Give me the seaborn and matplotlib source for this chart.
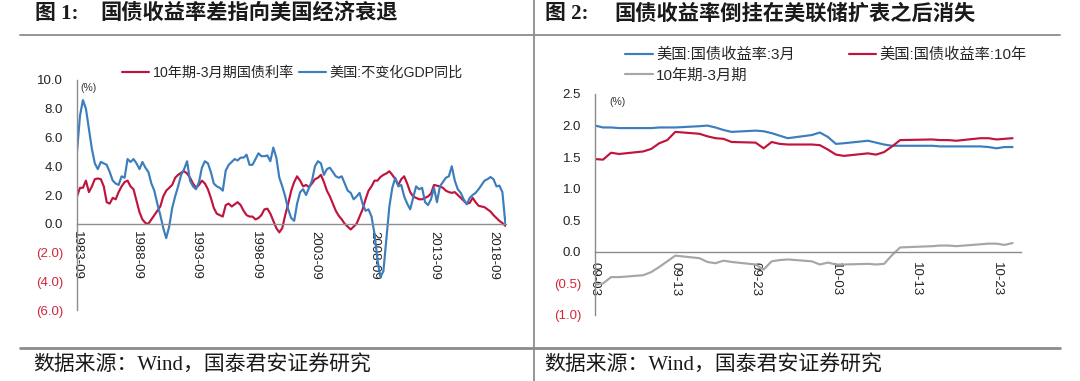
import numpy as np
import pandas as pd
import matplotlib.pyplot as plt
import matplotlib.dates as mdates
import matplotlib.ticker as mticker
from matplotlib.lines import Line2D
import seaborn as sns

# ---------------- chart 1: quarterly, from 1983-09 ----------------
spread_q = [
    1.9, 2.5, 2.5, 3.0, 2.2, 2.6, 3.1, 3.15, 3.1, 2.6,
    1.5, 1.4, 1.8, 1.7, 2.2, 2.6, 2.9, 3.0, 2.6, 2.4,
    1.6, 0.8, 0.3, 0.05, 0.0, 0.3, 0.6, 0.9, 1.2, 1.9,
    2.3, 2.5, 2.7, 3.2, 3.4, 3.55, 3.65, 3.5, 3.2, 2.8,
    2.5, 2.7, 3.0, 2.8, 2.4, 1.8, 1.1, 0.7, 0.6, 0.5,
    1.3, 1.4, 1.2, 1.35, 1.5, 1.3, 0.9, 0.6, 0.5, 0.5,
    0.3, 0.4, 0.6, 1.0, 1.05, 0.7, 0.2, -0.3, -0.6, -0.3,
    0.6, 1.4, 2.3, 2.9, 3.3, 3.0, 2.6, 2.7, 2.55, 2.8,
    3.1, 3.2, 3.4, 2.9, 2.3, 1.9, 1.4, 0.9, 0.55, 0.3,
    0.0, -0.2, -0.4, -0.2, 0.0, 0.5, 1.0, 1.7, 2.3, 2.6,
    3.0, 3.0, 3.25, 3.4, 3.5, 3.65, 3.4, 3.1, 2.7, 3.1,
    3.3, 2.8, 2.2, 1.9, 1.8, 1.7, 1.7, 1.8, 1.9, 2.1,
    2.7, 2.65, 2.6, 2.5, 2.3, 2.2, 2.15, 2.2, 2.0, 1.8,
    1.6, 1.4, 1.45, 1.8, 1.5, 1.25, 1.2, 1.15, 1.0, 0.85,
    0.6, 0.4, 0.2, 0.05, -0.15,
]
gdp_q = [
    5.0, 7.5, 8.6, 8.0, 6.6, 5.2, 4.2, 3.8, 4.3, 4.2,
    4.1, 3.6, 3.0, 2.8, 2.7, 3.3, 3.2, 4.5, 4.3, 4.5,
    4.2, 3.8, 4.3, 3.9, 3.6, 2.8, 2.3, 1.4, 0.6, -0.3,
    -1.0, -0.2, 1.1, 1.9, 2.6, 3.4, 3.8, 4.35, 3.0, 2.6,
    2.4, 2.9, 3.9, 4.35, 4.2, 3.6, 2.8, 2.6, 2.5, 2.3,
    3.7, 4.1, 4.3, 4.5, 4.4, 4.6, 4.6, 4.8, 4.1, 4.1,
    4.5, 4.9, 4.7, 4.7, 4.75, 4.35, 5.3, 4.6, 3.2, 2.6,
    1.9, 1.0, 0.4, 0.2, 1.4, 2.2, 2.4, 2.0, 2.5, 3.0,
    4.0, 4.35, 4.2, 3.4, 3.8, 3.9, 3.6, 3.3, 3.2, 3.3,
    2.8, 2.3, 2.15, 1.7, 1.9, 2.15, 1.4, 0.9, 1.0, 0.5,
    -0.7, -2.5, -3.7, -3.3, -1.0, 1.2, 2.5, 3.2, 2.6, 2.7,
    1.9, 1.4, 1.0, 1.8, 2.6, 2.4, 2.5, 1.5, 1.3, 1.7,
    2.5, 1.5, 2.6, 2.9, 3.2, 3.3, 4.0, 3.0, 2.4, 2.15,
    1.7, 1.35, 1.8, 2.0, 2.15, 2.4, 2.7, 3.0, 3.1, 3.25,
    3.1, 2.6, 2.65, 2.2, 0.0,
]
q_dates = pd.date_range("1983-09-01", periods=len(gdp_q), freq="3MS")
ticks1 = pd.date_range("1983-09-01", "2018-09-01", freq="60MS")
yticks1 = [-6, -4, -2, 0, 2, 4, 6, 8, 10]

# ---------------- chart 2: daily, 2019-09 to 2019-10 ----------------
days = [
    "2019-09-03", "2019-09-04", "2019-09-05", "2019-09-06", "2019-09-09",
    "2019-09-10", "2019-09-11", "2019-09-12", "2019-09-13", "2019-09-16",
    "2019-09-17", "2019-09-18", "2019-09-19", "2019-09-20", "2019-09-23",
    "2019-09-24", "2019-09-25", "2019-09-26", "2019-09-27", "2019-09-30",
    "2019-10-01", "2019-10-02", "2019-10-03", "2019-10-04", "2019-10-07",
    "2019-10-08", "2019-10-09", "2019-10-10", "2019-10-11", "2019-10-15",
    "2019-10-16", "2019-10-17", "2019-10-18", "2019-10-21", "2019-10-22",
    "2019-10-23", "2019-10-24", "2019-10-25",
]
y3m = [
    2.00, 1.97, 1.97, 1.96, 1.96, 1.96, 1.97, 1.97, 1.97, 1.99,
    2.00, 1.97, 1.93, 1.90, 1.92, 1.91, 1.88, 1.84, 1.80, 1.85,
    1.89, 1.82, 1.71, 1.72, 1.76, 1.73, 1.70, 1.68, 1.68, 1.68,
    1.67, 1.67, 1.67, 1.67, 1.66, 1.64, 1.66, 1.66,
]
y10 = [
    1.47, 1.46, 1.57, 1.55, 1.59, 1.63, 1.72, 1.77, 1.90, 1.87,
    1.83, 1.80, 1.79, 1.74, 1.73, 1.64, 1.74, 1.71, 1.70, 1.70,
    1.69, 1.62, 1.54, 1.52, 1.56, 1.54, 1.58, 1.67, 1.77, 1.78,
    1.77, 1.77, 1.76, 1.80, 1.80, 1.78, 1.79, 1.80,
]
spread_d = [
    -0.52, -0.50, -0.40, -0.40, -0.37, -0.32, -0.24, -0.15, -0.06, -0.10,
    -0.16, -0.18, -0.14, -0.16, -0.20, -0.28, -0.15, -0.13, -0.12, -0.15,
    -0.20, -0.17, -0.20, -0.20, -0.19, -0.20, -0.19, -0.05, 0.07, 0.09,
    0.10, 0.10, 0.09, 0.12, 0.13, 0.13, 0.11, 0.14,
]
d_dates = pd.to_datetime(days)
ticks2 = pd.date_range("2019-09-03", "2019-10-23", freq="10D")
yticks2 = [-1.0, -0.5, 0.0, 0.5, 1.0, 1.5, 2.0, 2.5]

RED = "#C0143C"
BLUE = "#3B7DBD"
GRAY = "#A6A6A6"
NEG = "#D0283C"
RULE = "#8C8C8C"

sns.set_theme(style="white")
plt.rcParams["font.family"] = ["Liberation Sans", "Noto Sans CJK SC", "DejaVu Sans"]
plt.rcParams["axes.unicode_minus"] = False


def neg_fmt(v, pos):
    return f"({abs(v):.1f})" if v < 0 else f"{v:.1f}"


def style_axis(ax, yticks, xpad):
    ax.set_xlabel("")
    ax.set_ylabel("")
    for s in ["top", "right"]:
        ax.spines[s].set_visible(False)
    ax.spines["bottom"].set_position(("data", 0))
    for s in ["left", "bottom"]:
        ax.spines[s].set_color(RULE)
        ax.spines[s].set_linewidth(1.0)
    ax.set_yticks(yticks)
    ax.yaxis.set_major_formatter(mticker.FuncFormatter(neg_fmt))
    ax.tick_params(axis="y", direction="in", length=3, width=1, color=RULE,
                   pad=10, labelsize=9.5, labelcolor="#222222")
    ax.tick_params(axis="x", direction="in", length=4, width=1, color=RULE,
                   pad=xpad, labelsize=9.5, labelcolor="#222222", rotation=270)
    ax.grid(False)
    ax.set_facecolor("none")
    for lab, v in zip(ax.get_yticklabels(), yticks):
        if v < 0:
            lab.set_color(NEG)


fig = plt.figure(figsize=(10.8, 3.81), dpi=100)

# ---- left panel
ax1 = fig.add_axes([77 / 1080, 1 - 310 / 381, 429 / 1080, 230 / 381])
sns.lineplot(x=q_dates, y=spread_q, ax=ax1, color=RED, linewidth=1.55,
             label="10年期-3月期国债利率")
sns.lineplot(x=q_dates, y=gdp_q, ax=ax1, color=BLUE, linewidth=1.55,
             label="美国:不变化GDP同比")
ax1.set_xlim(pd.Timestamp("1983-09-01"), pd.Timestamp("2019-09-20"))
ax1.set_ylim(-6, 10)
ax1.set_xticks(ticks1)
ax1.xaxis.set_major_formatter(mdates.DateFormatter("%Y-%m"))
style_axis(ax1, yticks1, 5)
ax1.legend(loc="center left", bbox_to_anchor=(122 / 1080, 1 - 73 / 381),
           bbox_transform=fig.transFigure, ncol=2, frameon=False,
           fontsize=10.2, handlelength=1.9, handletextpad=0.25,
           columnspacing=0.4, borderpad=0, borderaxespad=0)
fig.text(80 / 1080, 1 - 88 / 381, "(%)", fontsize=7.5, color="#333333", va="center")

# ---- right panel
ax2 = fig.add_axes([595 / 1080, 1 - 315 / 381, 425.6 / 1080, 221 / 381])
sns.lineplot(x=d_dates, y=y3m, ax=ax2, color=BLUE, linewidth=1.55,
             label="美国:国债收益率:3月")
sns.lineplot(x=d_dates, y=spread_d, ax=ax2, color=GRAY, linewidth=1.55,
             label="10年期-3月期")
sns.lineplot(x=d_dates, y=y10, ax=ax2, color=RED, linewidth=1.55,
             label="美国:国债收益率:10年")
ax2.set_xlim(pd.Timestamp("2019-09-03"), pd.Timestamp("2019-10-26"))
ax2.set_ylim(-1.0, 2.5)
ax2.set_xticks(ticks2)
ax2.xaxis.set_major_formatter(mdates.DateFormatter("%m-%d"))
style_axis(ax2, yticks2, 7)
ax2.legend(loc="upper left", bbox_to_anchor=(625 / 1080, 1 - 48 / 381),
           bbox_transform=fig.transFigure, ncol=2, frameon=False,
           fontsize=11, handlelength=1.8, handletextpad=0.25,
           columnspacing=3.5, labelspacing=0.4, borderpad=0, borderaxespad=0)
fig.text(609 / 1080, 1 - 102 / 381, "(%)", fontsize=7.5, color="#333333", va="center")

# ---- titles, rules and source notes
title_fam = ["Liberation Serif", "Noto Sans CJK SC"]
fig.text(35 / 1080, 1 - 14 / 381, "图 1:", fontsize=15, weight="bold",
         family=title_fam, va="center", color="#1a1a1a")
fig.text(100 / 1080, 1 - 14 / 381, "国债收益率差指向美国经济衰退", fontsize=15.3,
         weight="bold", family=title_fam, va="center", color="#1a1a1a")
fig.text(545 / 1080, 1 - 14 / 381, "图 2:", fontsize=15, weight="bold",
         family=title_fam, va="center", color="#1a1a1a")
fig.text(614 / 1080, 1 - 14 / 381, "国债收益率倒挂在美联储扩表之后消失", fontsize=15.3,
         weight="bold", family=title_fam, va="center", color="#1a1a1a")

fig.add_artist(Line2D([20 / 1080, 1060 / 1080], [1 - 34.5 / 381] * 2,
                      transform=fig.transFigure, color=RULE, lw=1.3))
fig.add_artist(Line2D([20 / 1080, 1060 / 1080], [1 - 347.5 / 381] * 2,
                      transform=fig.transFigure, color=RULE, lw=2.0))
fig.add_artist(Line2D([534 / 1080] * 2, [0, 1],
                      transform=fig.transFigure, color=RULE, lw=1.3))

src = "数据来源：Wind，国泰君安证券研究"
fig.text(33 / 1080, 1 - 366 / 381, src, fontsize=15, family=title_fam,
         va="center", color="#1a1a1a")
fig.text(544 / 1080, 1 - 366 / 381, src, fontsize=15, family=title_fam,
         va="center", color="#1a1a1a")

fig.savefig("out.png", dpi=100, facecolor="white")
